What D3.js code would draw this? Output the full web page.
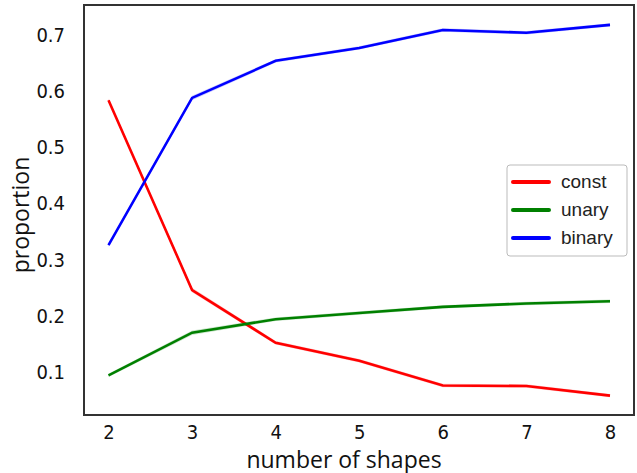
<!DOCTYPE html>
<html><head><meta charset="utf-8">
<script src="https://cdn.jsdelivr.net/npm/d3@7/dist/d3.min.js"></script>
<style>body{margin:0;background:#fff;}svg{display:block;}</style>
</head><body>
<svg id="c" width="637" height="473"></svg>
<script>
const shapes = [2, 3, 4, 5, 6, 7, 8];
const constVals  = [0.584, 0.246, 0.152, 0.120, 0.076, 0.075, 0.058];
const unaryVals  = [0.094, 0.170, 0.194, 0.205, 0.216, 0.222, 0.226];
const binaryVals = [0.326, 0.588, 0.654, 0.677, 0.709, 0.704, 0.718];
const ciHalf     = [0.003, 0.004, 0.003, 0.003, 0.003, 0.003, 0.003];
const yTicks = [0.1, 0.2, 0.3, 0.4, 0.5, 0.6, 0.7];
const seriesNames = ["const", "unary", "binary"];
const seriesColors = ["#ff0000", "#008000", "#0000ff"];
const seriesVals = [constVals, unaryVals, binaryVals];

const svg = d3.select("#c");
const L = 84, R = 634, T = 5, B = 415;
const x = d3.scaleLinear().domain([2, 8]).range([108.5, 610]);
const y = d3.scaleLinear().domain([0.1, 0.7]).range([372, 35]);

const tickFont = "'DejaVu Sans Condensed','DejaVu Sans',sans-serif";

// lines and bands
seriesVals.forEach((vals, i) => {
  const pts = shapes.map((s, j) => ({x: s, v: vals[j], e: ciHalf[j]}));
  const area = d3.area().x(d => x(d.x)).y0(d => y(d.v - d.e)).y1(d => y(d.v + d.e));
  svg.append("path").attr("d", area(pts)).attr("fill", seriesColors[i]).attr("fill-opacity", 0.2);
  const line = d3.line().x(d => x(d.x)).y(d => y(d.v));
  svg.append("path").attr("d", line(pts)).attr("fill", "none")
    .attr("stroke", seriesColors[i]).attr("stroke-width", 2.6);
});

// frame
svg.append("rect").attr("x", L).attr("y", T).attr("width", R - L).attr("height", B - T)
  .attr("fill", "none").attr("stroke", "#333").attr("stroke-width", 2);

// axes (labels only)
const xAxis = d3.axisBottom(x).tickValues(shapes).tickFormat(d3.format("d")).tickSize(0).tickPadding(10);
const gx = svg.append("g").attr("transform", `translate(0,${B})`).call(xAxis);
gx.select(".domain").remove();
gx.selectAll("text").attr("font-family", tickFont).attr("font-stretch", "condensed")
  .attr("font-size", 20).attr("fill", "#111");

const yAxis = d3.axisLeft(y).tickValues(yTicks).tickFormat(d3.format(".1f")).tickSize(0).tickPadding(19);
const gy = svg.append("g").attr("transform", `translate(${L},0)`).call(yAxis);
gy.select(".domain").remove();
gy.selectAll("text").attr("font-family", tickFont).attr("font-stretch", "condensed")
  .attr("font-size", 20).attr("fill", "#111");

// axis titles
svg.append("text").attr("x", 344).attr("y", 468).attr("text-anchor", "middle")
  .attr("font-family", "'Open Sans',sans-serif").attr("font-size", 23).attr("fill", "#111")
  .text("number of shapes");
svg.append("text").attr("transform", "translate(29,215) rotate(-90)").attr("text-anchor", "middle")
  .attr("font-family", "'Open Sans',sans-serif").attr("font-size", 23).attr("fill", "#111")
  .text("proportion");

// legend
const lg = svg.append("g");
lg.append("rect").attr("x", 507).attr("y", 165).attr("width", 120).attr("height", 91)
  .attr("rx", 3).attr("fill", "#fff").attr("fill-opacity", 0.85).attr("stroke", "#bbb").attr("stroke-width", 1);
seriesNames.forEach((n, i) => {
  const yy = 182 + i * 28;
  lg.append("line").attr("x1", 513).attr("x2", 549).attr("y1", yy).attr("y2", yy)
    .attr("stroke", seriesColors[i]).attr("stroke-width", 4).attr("stroke-linecap", "round");
  lg.append("text").attr("x", 561).attr("y", yy + 6).attr("font-family", "'Liberation Sans',Arial,sans-serif")
    .attr("font-size", 19).attr("fill", "#222").text(n);
});
</script>
</body></html>
